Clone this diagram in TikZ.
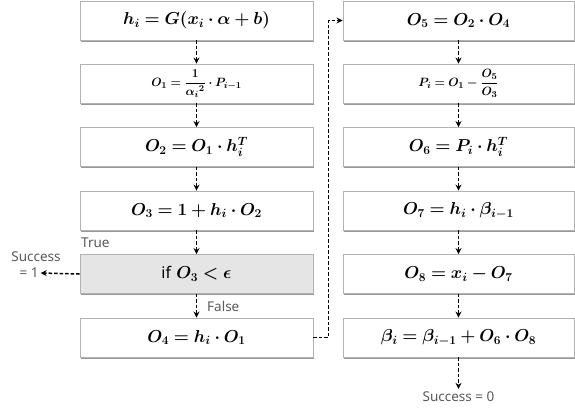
\documentclass[tikz,border=0pt]{standalone}
\usepackage{amsmath,bm}
\usepackage{fontspec}
\setsansfont{Noto Sans}
\usetikzlibrary{shadows,arrows.meta,calc}
\begin{document}
\begin{tikzpicture}[x=1pt,y=-1pt,
  box/.style={draw=gray!60, line width=0.9pt, fill=white, minimum width=233pt, minimum height=39pt, inner sep=0pt,
    font=\fontsize{18}{21}\selectfont,
    drop shadow={shadow xshift=0.8pt, shadow yshift=-1.6pt, fill=gray!80, opacity=1}},
  rbox/.style={box, minimum width=231pt},
  small/.style={font=\fontsize{13}{15}\selectfont},
  arr/.style={line width=1.5pt, dash pattern=on 3.5pt off 2pt, -{Stealth[length=6pt,width=6pt]}},
  lab/.style={font=\sffamily\fontsize{13.5}{15}\selectfont, text=black!65, inner sep=0pt}]
\useasboundingbox (0,0) rectangle (575,410);
% left column
\node[box] (L1) at (196.5,20.5) {$\bm{h_i = G(x_i\cdot\alpha + b)}$};
\node[box,small] (L2) at (196.5,83.5) {$\bm{O_1 = \dfrac{1}{{\alpha_i}^{2}}\cdot P_{i-1}}$};
\node[box] (L3) at (196.5,147) {$\bm{O_2 = O_1\cdot h_i^T}$};
\node[box] (L4) at (196.5,210.5) {$\bm{O_3 = 1 + h_i\cdot O_2}$};
\node[box, fill=gray!20] (L5) at (196.5,274) {{\sffamily\fontsize{16}{18}\selectfont if} $\bm{O_3 < \epsilon}$};
\node[box] (L6) at (196.5,337.5) {$\bm{O_4 = h_i\cdot O_1}$};
% right column
\node[rbox] (R1) at (458.5,20.5) {$\bm{O_5 = O_2\cdot O_4}$};
\node[rbox,small] (R2) at (458.5,83.5) {$\bm{P_i = O_1 - \dfrac{O_5}{O_3}}$};
\node[rbox] (R3) at (458.5,147) {$\bm{O_6 = P_i\cdot h_i^T}$};
\node[rbox] (R4) at (458.5,210.5) {$\bm{O_7 = h_i\cdot \beta_{i-1}}$};
\node[rbox] (R5) at (458.5,274) {$\bm{O_8 = x_i - O_7}$};
\node[rbox] (R6) at (458.5,337.5) {$\bm{\beta_i = \beta_{i-1} + O_6\cdot O_8}$};
% labels
\node[lab, anchor=west] (T) at (81,243) {True};
\node[lab, anchor=west] (F) at (207,306) {False};
\node[lab] (S1) at (36,257) {Success};
\node[lab] (E1) at (29,273) {= 1};
\node[lab] (S0) at (458.5,397) {Success = 0};
% arrows
\draw[arr] (L1) -- (L2);
\draw[arr] (L2) -- (L3);
\draw[arr] (L3) -- (L4);
\draw[arr] (L4) -- (L5);
\draw[arr] (L5) -- (L6);
\draw[arr] (L5.west) -- ($(E1.east)+(2,0)$);
\draw[arr] (L6.east) -- ++(15,0) |- (R1.west);
\draw[arr] (R1) -- (R2);
\draw[arr] (R2) -- (R3);
\draw[arr] (R3) -- (R4);
\draw[arr] (R4) -- (R5);
\draw[arr] (R5) -- (R6);
\draw[arr] (R6) -- ($(S0.north)+(0,-3)$);
\end{tikzpicture}
\end{document}
